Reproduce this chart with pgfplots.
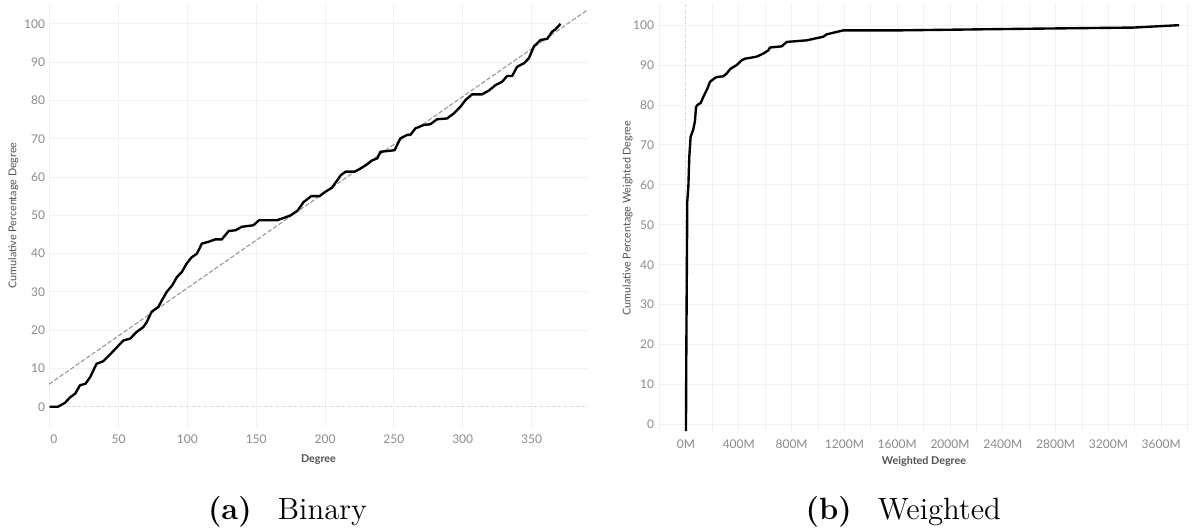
\documentclass[border=0pt]{standalone}
\usepackage{fontspec}
\usepackage{pgfplots}
\pgfplotsset{compat=1.18}
\newfontfamily\tabfont{Lato}
\definecolor{gridgray}{HTML}{F1F1F1}
\definecolor{tickgray}{HTML}{8A8A8A}
\definecolor{titlegray}{HTML}{505050}
\definecolor{refgray}{HTML}{9A9A9A}
\definecolor{zerogray}{HTML}{BDBDBD}
\pgfplotsset{
  tabstyle/.style={
    scale only axis,
    anchor=south west,
    axis line style={draw=none},
    tick style={draw=none},
    grid=major,
    major grid style={color=gridgray, line width=0.4pt},
    minor grid style={color=gridgray, line width=0.4pt},
    /pgf/number format/assume math mode=true,
    ticklabel style={font=\tabfont\fontsize{4.8}{5.5}\selectfont, text=tickgray},
    yticklabel style={inner sep=0pt, xshift=-1.4pt},
    xticklabel style={inner sep=0pt, yshift=-2.9pt},
    label style={font=\tabfont\fontsize{4.3}{5}\selectfont, text=titlegray},
    xlabel style={font=\tabfont\bfseries\fontsize{4.3}{5}\selectfont, anchor=center},
    ylabel style={anchor=center, rotate=0},
    clip=true,
  }
}
\begin{document}
\begin{tikzpicture}
\path[use as bounding box] (0,0) rectangle (480pt,212.4pt);
% (a) Binary
\begin{axis}[tabstyle,
  at={(19.6pt,41.6pt)}, width=215.6pt, height=169.2pt,
  xmin=-0.5, xmax=391, ymin=-5.3, ymax=105.2,
  xtick={0,50,...,350}, ytick={0,10,...,100},
  xticklabels={\hspace{3.4pt}0,50,100,150,200,250,300,350},
  xlabel={Degree}, ylabel={Cumulative Percentage Degree},
  xlabel style={at={(axis description cs:0.5,-0.078)}},
  ylabel style={at={(axis description cs:-0.066,0.5)}},
]
\addplot[zerogray, dotted, line width=0.4pt] coordinates {(-0.5,0) (391,0)};
\addplot[refgray, line width=0.45pt, dash pattern=on 1.8pt off 0.8pt] coordinates {(-0.5,5.88) (391,103.75)};
\addplot[black, line width=0.95pt, line join=round] coordinates {
(0,0) (6,0) (11,1) (15,2.5) (18.5,3.4) (22,5.6) (26,6) (29.5,7.8) (34,11.2) (39,11.9)
(44,13.7) (49,15.6) (53.5,17.3) (58.5,17.8) (63,19.5) (68,20.8) (70.5,22.1) (74,24.8)
(79,26.1) (81.5,27.8) (85,30) (89,31.7) (92.5,33.9) (96,35.2) (99.5,37.4) (103,39)
(107,40) (110.5,42.6) (115.5,43.1) (120,43.7) (125,43.7) (130,45.9) (135,46.1)
(139.5,47) (148,47.4) (152,48.7) (165,48.7) (170,49.3) (175,50) (180,51.2) (184.5,53.5)
(190,55) (196,55) (200,56.1) (205,57.2) (211.5,60.5) (215,61.4) (221.5,61.4) (225.7,62.2)
(230.5,63.3) (234,64.3) (238,64.9) (240.2,66.6) (250.5,67) (254.7,70.1) (259.6,71)
(262,71) (265.6,72.7) (271.7,73.6) (276.5,73.8) (281.4,75.1) (288.6,75.3) (293.5,76.6)
(298.4,78.4) (302,80.1) (306.8,81.6) (314,81.6) (319,82.6) (323.8,84) (328.6,84.9)
(332.3,86.4) (335.9,86.4) (339.5,88.8) (344.4,89.7) (348,91) (351.7,94.1) (356.5,95.8)
(361.4,96.1) (365,98) (367.4,98.6) (371,100)
};
\end{axis}
% (b) Weighted
\begin{axis}[tabstyle,
  at={(263.2pt,39.6pt)}, width=212.8pt, height=171.2pt,
  xmin=-212, xmax=3818, ymin=-1.9, ymax=105.3,
  xtick={0,400,...,3600},
  xticklabels={0M,400M,800M,1200M,1600M,2000M,2400M,2800M,3200M,3600M},
  minor xtick={-200,200,...,3800},
  xminorgrids=true,
  ytick={0,10,...,100},
  xlabel={Weighted Degree}, ylabel={Cumulative Percentage Weighted Degree},
  xlabel style={at={(axis description cs:0.5,-0.068)}},
  ylabel style={at={(axis description cs:-0.057,0.5)}},
]
\addplot[zerogray, dotted, line width=0.4pt] coordinates {(0,-1.9) (0,105.3)};
\addplot[black, line width=0.95pt, line join=round] coordinates {
(0,-1.6) (2,15) (5,31) (10,56) (18,59.5) (25,67) (35,72) (56,74) (68,76) (76,79.5)
(86,80) (111,80.5) (131,82) (162,84.1) (182,85.8) (212,86.6) (232,87) (283,87.2)
(308,87.9) (338,89.1) (384,90) (422,91.2) (447,91.6) (535,92.1) (586,92.9) (624,93.7)
(636,94.4) (725,94.7) (763,95.8) (914,96.2) (1040,97.1) (1066,97.7) (1141,98.3)
(1192,98.7) (1620,98.7) (2580,99.1) (3390,99.4) (3735,100)
};
\end{axis}
\node[anchor=base, font=\fontsize{12.3}{14}\selectfont] at (115pt,4.7pt) {\textbf{(a)}\hspace{0.85em}Binary};
\node[anchor=base, font=\fontsize{12.3}{14}\selectfont] at (361.3pt,4.7pt) {\textbf{(b)}\hspace{0.85em}Weighted};
\end{tikzpicture}
\end{document}
